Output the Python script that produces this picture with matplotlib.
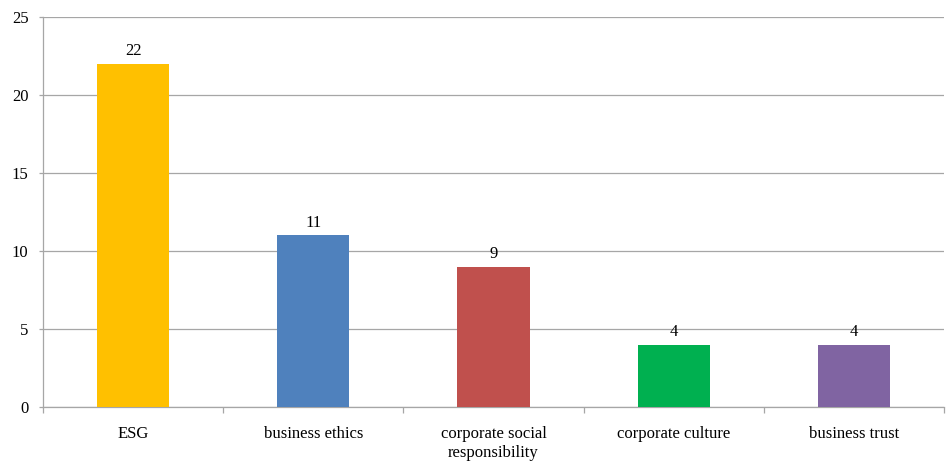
import matplotlib
matplotlib.use("Agg")
import matplotlib.pyplot as plt
import numpy as np

categories = ["ESG", "business ethics", "corporate social\nresponsibility", "corporate culture", "business trust"]
values = [22, 11, 9, 4, 4]
colors = ["#FFC000", "#4F81BD", "#C0504D", "#00B050", "#8064A2"]
yticks = [0, 5, 10, 15, 20, 25]

plt.rcParams['font.family'] = ['Liberation Serif', 'DejaVu Serif']

fig = plt.figure(figsize=(9.47, 4.61), dpi=100)
ax = fig.add_axes([43/947, 54/461, (944-43)/947, (407-17)/461])

x = np.arange(len(categories))
bars = ax.bar(x, values, width=0.4, color=colors, zorder=3)
for xi, v in zip(x, values):
    ax.annotate(str(v), (xi, v), xytext=(0, 3.5), textcoords="offset points",
                ha="center", va="bottom", fontsize=12, color="#000000")

ax.set_xlim(-0.5, len(categories) - 0.5)
ax.set_ylim(0, 25)
ax.set_yticks(yticks)
ax.set_yticklabels([str(t) for t in yticks], fontsize=12)
ax.yaxis.grid(True, color="#A6A6A6", linewidth=0.9, zorder=0)

ax.set_xticks(x)
ax.set_xticklabels(categories, fontsize=12, va="top", linespacing=1.2)
ax.tick_params(axis="x", which="major", length=0, pad=14)
ax.set_xticks(np.arange(len(categories) + 1) - 0.5, minor=True)
ax.tick_params(axis="x", which="minor", length=4, color="#A6A6A6", width=0.9)
ax.tick_params(axis="y", length=3, color="#A6A6A6", width=0.9, pad=7.5)

for s in ["top", "right"]:
    ax.spines[s].set_visible(False)
ax.spines["left"].set_color("#A6A6A6")
ax.spines["bottom"].set_color("#A6A6A6")
ax.spines["left"].set_linewidth(0.9)
ax.spines["bottom"].set_linewidth(0.9)

fig.savefig("out.png", dpi=100)
